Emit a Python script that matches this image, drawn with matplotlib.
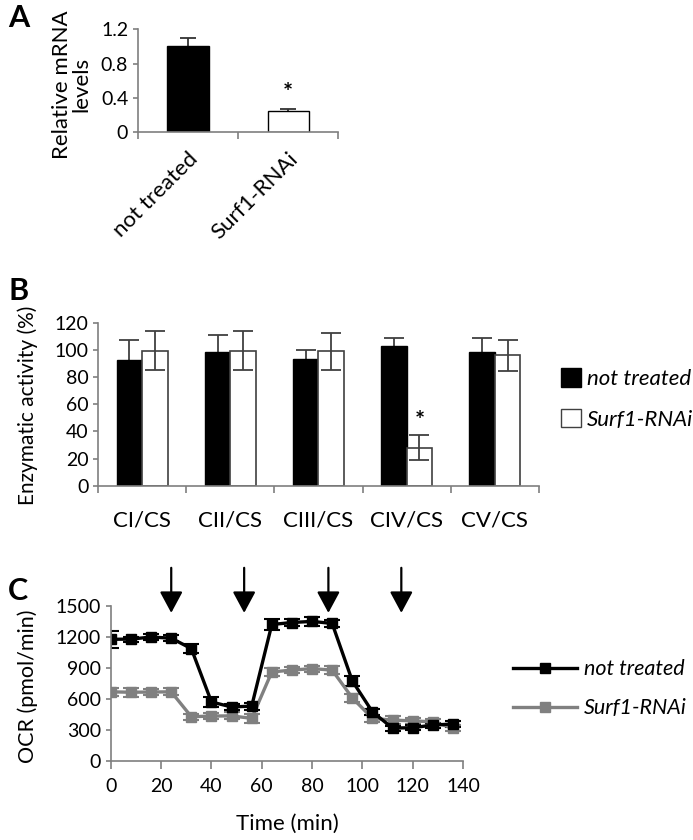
import numpy as np
import matplotlib
matplotlib.use("Agg")
import matplotlib.pyplot as plt
from matplotlib.patches import Patch
from matplotlib.lines import Line2D

plt.rcParams['font.family'] = ['Lato', 'DejaVu Sans']

# Panel A - relative mRNA levels
a_groups = ['not treated', 'Surf1-RNAi']
a_vals = [1.0, 0.25]
a_err = [0.1, 0.02]

# Panel B - enzymatic activity (%)
b_cats = ['CI/CS', 'CII/CS', 'CIII/CS', 'CIV/CS', 'CV/CS']
b_nt = [92.5, 98.8, 93.4, 102.5, 98.8]
b_nt_err = [15, 12, 6.5, 6.6, 9.6]
b_si = [99.5, 99.5, 99, 28, 96]
b_si_err = [14.5, 14.5, 13.5, 9, 11.5]

# Panel C - OCR over time
t = [0, 8, 16, 24, 32, 40, 48, 56, 64, 72, 80, 88, 96, 104, 112, 120, 128, 136]
ocr_nt = [1175, 1177, 1197, 1186, 1085, 570, 522, 530, 1318, 1337, 1348, 1328,
          774, 475, 318, 322, 347, 358]
ocr_nt_err = [82, 25, 25, 30, 40, 50, 30, 35, 50, 35, 40, 35, 45, 30, 25, 25, 25, 30]
ocr_si = [668, 664, 666, 668, 428, 434, 436, 412, 860, 878, 892, 878,
          610, 412, 395, 388, 378, 318]
ocr_si_err = [40, 45, 30, 35, 30, 30, 35, 45, 40, 30, 30, 35, 40, 35, 40, 30, 30, 30]
injections = [24, 53, 86.5, 115.5]

axcol = '#7f7f7f'
fs = 14

fig = plt.figure(figsize=(6.93, 8.4), dpi=100)


def style(ax):
    for s in ['top', 'right']:
        ax.spines[s].set_visible(False)
    for s in ['left', 'bottom']:
        ax.spines[s].set_color(axcol)
        ax.spines[s].set_linewidth(1.2)
    ax.tick_params(colors=axcol, labelcolor='black', labelsize=fs, width=1.2)


# ---- A ----
axA = fig.add_axes([0.199, 0.8425, 0.289, 0.1226])
xa = np.arange(len(a_groups))
axA.errorbar(xa, a_vals, yerr=a_err, fmt='none', ecolor='#333333', capsize=6,
             elinewidth=1.3, capthick=1.3, zorder=1)
axA.bar(xa, a_vals, width=0.41, color=['black', 'white'], edgecolor='black', linewidth=1, zorder=2)
axA.set_xlim(-0.5, 1.5)
axA.set_ylim(0, 1.2)
axA.set_yticks([0, 0.4, 0.8, 1.2])
axA.set_yticklabels(['0', '0.4', '0.8', '1.2'])
axA.set_xticks(xa)
axA.set_xticklabels(a_groups, rotation=45, ha='right', rotation_mode='anchor')
axA.set_xticks([-0.5, 0.5, 1.5], minor=True)
axA.tick_params(axis='x', which='major', length=0, pad=12)
axA.tick_params(axis='x', which='minor', length=5, color=axcol, width=1.2)
style(axA)
axA.tick_params(axis='x', labelsize=16)
axA.text(1, 0.45, '*', ha='center', va='center', fontsize=17, fontweight='bold')
fig.text(0.104, 0.899, 'Relative mRNA\nlevels', rotation=90, ha='center', va='center',
         fontsize=16, multialignment='center', linespacing=0.95)
fig.text(0.012, 0.978, 'A', fontsize=22, fontweight='bold', va='center')

# ---- B ----
axB = fig.add_axes([0.1415, 0.4218, 0.636, 0.194])
xb = np.arange(len(b_cats))
w = 0.29
axB.errorbar(xb - w / 2, b_nt, yerr=b_nt_err, fmt='none', ecolor='#404040', capsize=7,
             elinewidth=1.3, capthick=1.3, zorder=1)
axB.bar(xb - w / 2, b_nt, width=w, color='black', edgecolor='black', linewidth=1, zorder=2)
axB.bar(xb + w / 2, b_si, width=w, color='white', edgecolor='#404040', linewidth=1.2, zorder=2)
axB.errorbar(xb + w / 2, b_si, yerr=b_si_err, fmt='none', ecolor='#404040', capsize=7,
             elinewidth=1.3, capthick=1.3, zorder=3)
axB.set_xlim(-0.5, len(b_cats) - 0.5)
axB.set_ylim(0, 120)
axB.set_yticks(np.arange(0, 121, 20))
axB.set_xticks(xb)
axB.set_xticklabels(b_cats)
axB.set_xticks(np.arange(-0.5, len(b_cats)), minor=True)
axB.tick_params(axis='x', which='major', length=0, pad=18)
axB.tick_params(axis='x', which='minor', length=5, color=axcol, width=1.2)
style(axB)
axB.tick_params(axis='x', labelsize=16)
axB.text(3 + w / 2, 47, '*', ha='center', va='center', fontsize=17, fontweight='bold')
fig.text(0.04, 0.518, 'Enzymatic activity (%)', rotation=90, ha='center', va='center', fontsize=15)
fig.text(0.012, 0.654, 'B', fontsize=22, fontweight='bold', va='center')
hB = [Patch(facecolor='black', edgecolor='black'), Patch(facecolor='white', edgecolor='#404040')]
fig.legend(hB, ['not treated', 'Surf1-RNAi'], loc='center left', bbox_to_anchor=(0.78, 0.525),
           frameon=False, prop={'style': 'italic', 'size': 16}, handlelength=0.9, handleheight=0.9,
           handletextpad=0.3, labelspacing=0.9)

# ---- C ----
axC = fig.add_axes([0.160, 0.094, 0.508, 0.185])
axC.errorbar(t, ocr_si, yerr=ocr_si_err, color='#808080', lw=2.4, marker='s', ms=6.5,
             capsize=6, elinewidth=1.5, capthick=1.5, label='Surf1-RNAi')
axC.errorbar(t, ocr_nt, yerr=ocr_nt_err, color='black', lw=2.4, marker='s', ms=6.5,
             capsize=6, elinewidth=1.5, capthick=1.5, label='not treated')
axC.set_xlim(0, 140)
axC.set_ylim(0, 1500)
axC.set_xticks(np.arange(0, 141, 20))
axC.set_yticks(np.arange(0, 1501, 300))
axC.tick_params(axis='x', length=6, pad=6)
style(axC)
for tx in injections:
    axC.annotate('', xy=(tx, 1430), xytext=(tx, 1865), annotation_clip=False,
                 arrowprops=dict(arrowstyle='-|>,head_length=0.65,head_width=0.35',
                                 mutation_scale=20, color='black', lw=1.6, shrinkA=0, shrinkB=0))
axC.set_xlabel('Time (min)', fontsize=16, labelpad=14)
fig.text(0.04, 0.183, 'OCR (pmol/min)', rotation=90, ha='center', va='center', fontsize=15.5)
fig.text(0.012, 0.296, 'C', fontsize=22, fontweight='bold', va='center')
hC = [Line2D([], [], color='black', lw=2.4, marker='s', ms=6.5),
      Line2D([], [], color='#808080', lw=2.4, marker='s', ms=6.5)]
fig.legend(hC, ['not treated', 'Surf1-RNAi'], loc='center left', bbox_to_anchor=(0.712, 0.18),
           frameon=False, prop={'style': 'italic', 'size': 15.5}, handlelength=3.0,
           handletextpad=0.3, labelspacing=0.9)

fig.savefig('out.png', dpi=100)
